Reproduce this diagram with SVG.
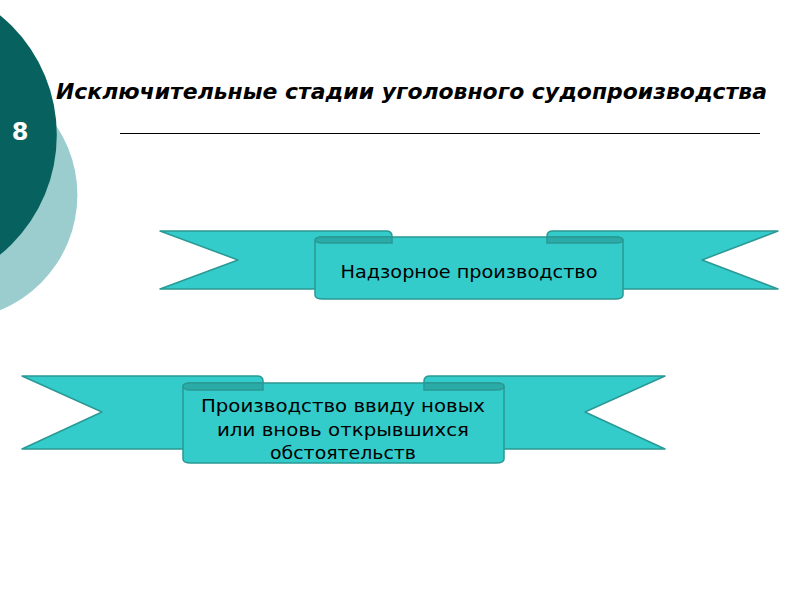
<svg xmlns="http://www.w3.org/2000/svg" width="800" height="600" viewBox="0 0 800 600">
<style>
.rib{fill:#34CBCB;stroke:#2A9994;stroke-width:1.5;stroke-linejoin:round}
.fold{fill:#2BABA8;stroke:#2A9994;stroke-width:1.5}
.lbl{font-family:"DejaVu Sans","Verdana",sans-serif;font-size:18px;fill:#000;text-anchor:middle}
</style>
<rect width="800" height="600" fill="#fff"/>
<g id="decor">
<circle cx="-47" cy="195" r="124.4" fill="#9CCDCE"/>
<circle cx="-98" cy="135" r="154.8" fill="#07625F"/>
<text x="20" y="140" font-family="'DejaVu Sans',sans-serif" font-weight="bold" font-size="24" fill="#fff" text-anchor="middle">8</text>
</g>
<g id="title">
<text x="56" y="99" font-family="'DejaVu Sans',sans-serif" font-weight="bold" font-style="italic" font-size="21" textLength="711" lengthAdjust="spacingAndGlyphs" fill="#000">Исключительные стадии уголовного судопроизводства</text>
<line x1="120" y1="133.5" x2="760" y2="133.5" stroke="#000" stroke-width="1"/>
</g>
<g id="node1">
<path class="rib" d="M160,231 L386,231 Q392,231 392,236 L392,289 L160,289 L238,260 Z"/>
<path class="rib" d="M778,231 L553,231 Q547,231 547,236 L547,289 L778,289 L702,260 Z"/>
<path class="rib" d="M315,241 Q315,237 323,237 L615,237 Q623,237 623,241 L623,295 Q623,299 615,299 L323,299 Q315,299 315,295 Z"/>
<path class="fold" d="M392,237 L323,237 Q315,237 315,240 Q315,243 323,243 L392,243 Z"/>
<path class="fold" d="M547,237 L615,237 Q623,237 623,240 Q623,243 615,243 L547,243 Z"/>
<text class="lbl" x="469" y="278" textLength="257" lengthAdjust="spacingAndGlyphs">Надзорное производство</text>
</g>
<g id="node2">
<path class="rib" d="M22,376 L257,376 Q263,376 263,381 L263,449 L22,449 L102,412 Z"/>
<path class="rib" d="M665,376 L430,376 Q424,376 424,381 L424,449 L665,449 L585,412 Z"/>
<path class="rib" d="M183,387 Q183,383 191,383 L496,383 Q504,383 504,387 L504,459 Q504,463 496,463 L191,463 Q183,463 183,459 Z"/>
<path class="fold" d="M263,383 L191,383 Q183,383 183,386 Q183,390 191,390 L263,390 Z"/>
<path class="fold" d="M424,383 L496,383 Q504,383 504,386 Q504,390 496,390 L424,390 Z"/>
<text class="lbl" x="343" y="412" textLength="284" lengthAdjust="spacingAndGlyphs">Производство ввиду новых</text>
<text class="lbl" x="343" y="436" textLength="252" lengthAdjust="spacingAndGlyphs">или вновь открывшихся</text>
<text class="lbl" x="343" y="459" textLength="146" lengthAdjust="spacingAndGlyphs">обстоятельств</text>
</g>
</svg>
